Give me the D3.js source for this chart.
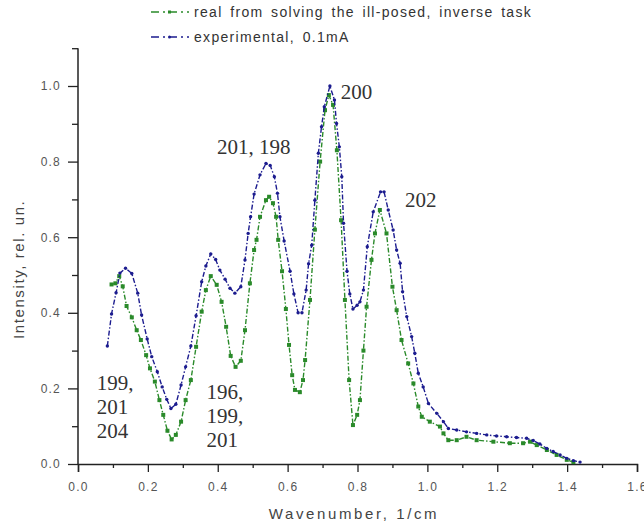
<!DOCTYPE html>
<html>
<head>
<meta charset="utf-8">
<script src="https://cdn.jsdelivr.net/npm/d3@7/dist/d3.min.js"></script>
<style>
  html, body { margin: 0; padding: 0; background: #fff; }
  svg { display: block; }
  .tick-label { font-family: "Liberation Sans", Arial, sans-serif; font-size: 12px; fill: #555; letter-spacing: 1.2px; }
  .axis-title { font-family: "Liberation Sans", Arial, sans-serif; font-size: 15px; fill: #444; }
  .legend-text { font-family: "Liberation Sans", Arial, sans-serif; font-size: 14px; fill: #333; letter-spacing: 1.3px; word-spacing: 2.5px; }
  .note { font-family: "Liberation Serif", "Times New Roman", serif; font-size: 21px; fill: #333; }
</style>
</head>
<body>
<svg id="chart" width="644" height="527"></svg>
<script>
// Wavenumber (1/cm) and relative intensity for the measured spectrum (0.1 mA)
const expX = [0.084,0.096,0.109,0.12,0.136,0.154,0.171,0.182,0.198,0.211,0.227,0.241,0.254,0.266,0.28,0.295,0.308,0.323,0.338,0.354,0.366,0.38,0.394,0.406,0.421,0.435,0.449,0.466,0.478,0.487,0.494,0.504,0.521,0.538,0.55,0.562,0.571,0.578,0.59,0.607,0.618,0.63,0.641,0.653,0.66,0.669,0.678,0.688,0.697,0.705,0.721,0.734,0.74,0.748,0.755,0.76,0.77,0.778,0.787,0.799,0.807,0.817,0.828,0.845,0.866,0.876,0.888,0.902,0.912,0.922,0.929,0.941,0.955,0.964,0.974,0.988,1.003,1.027,1.046,1.06,1.084,1.112,1.141,1.17,1.198,1.227,1.255,1.284,1.303,1.322,1.342,1.36,1.38,1.399,1.418,1.437];
const expY = [0.312,0.397,0.453,0.505,0.518,0.504,0.452,0.394,0.331,0.284,0.244,0.204,0.171,0.147,0.158,0.209,0.257,0.312,0.392,0.482,0.524,0.556,0.541,0.513,0.489,0.465,0.452,0.469,0.54,0.61,0.654,0.714,0.765,0.795,0.79,0.76,0.716,0.654,0.59,0.51,0.45,0.40,0.40,0.46,0.53,0.579,0.698,0.822,0.892,0.945,1.0,0.963,0.901,0.839,0.76,0.637,0.51,0.45,0.41,0.42,0.429,0.46,0.575,0.667,0.72,0.72,0.672,0.619,0.566,0.531,0.456,0.39,0.337,0.293,0.24,0.204,0.16,0.134,0.112,0.094,0.09,0.085,0.081,0.077,0.074,0.072,0.07,0.068,0.062,0.053,0.041,0.033,0.024,0.015,0.009,0.005];

// Spectrum recovered by solving the ill-posed inverse problem
const realX = [0.096,0.107,0.118,0.128,0.139,0.154,0.168,0.18,0.195,0.206,0.22,0.233,0.244,0.256,0.268,0.28,0.295,0.308,0.323,0.338,0.354,0.366,0.38,0.397,0.411,0.424,0.437,0.451,0.466,0.478,0.492,0.504,0.511,0.521,0.538,0.547,0.558,0.567,0.573,0.584,0.595,0.604,0.613,0.621,0.635,0.644,0.65,0.664,0.678,0.693,0.707,0.718,0.73,0.741,0.753,0.764,0.776,0.787,0.799,0.807,0.817,0.826,0.84,0.85,0.864,0.883,0.9,0.912,0.926,0.945,0.96,0.974,0.984,1.007,1.036,1.046,1.06,1.084,1.112,1.141,1.189,1.236,1.274,1.294,1.313,1.342,1.37,1.399,1.418];
const realY = [0.475,0.478,0.497,0.47,0.418,0.388,0.354,0.328,0.288,0.253,0.218,0.169,0.13,0.088,0.065,0.077,0.112,0.169,0.222,0.31,0.403,0.46,0.497,0.474,0.429,0.363,0.286,0.257,0.273,0.354,0.478,0.566,0.593,0.654,0.698,0.707,0.69,0.654,0.593,0.51,0.41,0.315,0.235,0.196,0.19,0.222,0.275,0.434,0.62,0.80,0.936,0.976,0.95,0.83,0.645,0.434,0.222,0.103,0.13,0.169,0.3,0.416,0.54,0.61,0.672,0.61,0.469,0.407,0.328,0.266,0.213,0.152,0.125,0.112,0.099,0.081,0.063,0.063,0.072,0.063,0.059,0.055,0.055,0.059,0.05,0.037,0.024,0.011,0.005];

const xTicks = [0.0, 0.2, 0.4, 0.6, 0.8, 1.0, 1.2, 1.4, 1.6];
const yTicks = [0.0, 0.2, 0.4, 0.6, 0.8, 1.0];
const xMinor = [0.1, 0.3, 0.5, 0.7, 0.9, 1.1, 1.3, 1.5];
const yMinor = [0.1, 0.3, 0.5, 0.7, 0.9, 1.1];

const legendLabels = ["real from solving the ill-posed, inverse task", "experimental, 0.1mA"];

// Isotope annotations: text lines and the peak position (x, y in data units) they sit by
const notes = [
  { lines: ["200"], x: 0.752, y: 0.965 },
  { lines: ["201, 198"], x: 0.398, y: 0.82 },
  { lines: ["202"], x: 0.936, y: 0.68 },
  { lines: ["199,", "201", "204"], x: 0.054, y: 0.196 },
  { lines: ["196,", "199,", "201"], x: 0.368, y: 0.171 }
];

const colReal = "#2a8a2a";
const colExp = "#1c1c8f";

const svg = d3.select("#chart");
const x = d3.scaleLinear().domain([0, 1.6]).range([78, 637]);
const y = d3.scaleLinear().domain([0, 1.1]).range([464, 48.2]);

// Axes: major ticks with labels, shorter unlabelled minor ticks, all pointing outward
const axisColor = "#222";
function styleAxis(g) {
  g.select(".domain").attr("stroke", axisColor).attr("stroke-width", 1.5);
  g.selectAll(".tick line").attr("stroke", axisColor).attr("stroke-width", 1.3);
}
const gx = svg.append("g").attr("transform", `translate(0,${y(0)})`)
  .call(d3.axisBottom(x).tickValues(xTicks).tickSizeOuter(0).tickSize(8).tickFormat(d3.format(".1f")))
  .call(styleAxis);
gx.selectAll(".tick text").attr("class", "tick-label").attr("y", 27).attr("dy", 0)
  .attr("font-size", null).attr("font-family", null).attr("fill", null);
svg.append("g").attr("transform", `translate(0,${y(0)})`)
  .call(d3.axisBottom(x).tickValues(xMinor).tickSizeOuter(0).tickSize(4).tickFormat(""))
  .call(styleAxis).select(".domain").remove();

const gy = svg.append("g").attr("transform", `translate(${x(0)},0)`)
  .call(d3.axisLeft(y).tickValues(yTicks).tickSizeOuter(0).tickSize(10).tickFormat(d3.format(".1f")))
  .call(styleAxis);
gy.selectAll(".tick text").attr("class", "tick-label").attr("x", -17)
  .attr("font-size", null).attr("font-family", null).attr("fill", null);
svg.append("g").attr("transform", `translate(${x(0)},0)`)
  .call(d3.axisLeft(y).tickValues(yMinor).tickSizeOuter(0).tickSize(6).tickFormat(""))
  .call(styleAxis).select(".domain").remove();
// extend the y axis line to its top minor tick
gy.select(".domain").attr("d", `M0,${y(0)}V${y(1.1)}`);

// Axis titles
svg.append("text").attr("class", "axis-title")
  .attr("transform", `translate(24,${y(0.515)}) rotate(-90)`)
  .attr("text-anchor", "middle").attr("letter-spacing", "1.6px").text("Intensity, rel. un.");
svg.append("text").attr("class", "axis-title")
  .attr("x", 354).attr("y", 519).attr("text-anchor", "middle")
  .attr("letter-spacing", "2.6px").text("Wavenumber, 1/cm");

// Series
const line = d3.line().x(d => x(d[0])).y(d => y(d[1]));
const expPts = expX.map((v, i) => [v, expY[i]]);
const realPts = realX.map((v, i) => [v, realY[i]]);

function drawSeries(pts, color, marker) {
  const g = svg.append("g");
  g.append("path").datum(pts).attr("d", line)
    .attr("fill", "none").attr("stroke", color).attr("stroke-width", 1.4)
    .attr("stroke-dasharray", "5,2,1.5,2");
  if (marker === "square") {
    g.selectAll("rect").data(pts).join("rect")
      .attr("x", d => x(d[0]) - 2).attr("y", d => y(d[1]) - 2)
      .attr("width", 4).attr("height", 4).attr("fill", color);
  } else {
    g.selectAll("circle").data(pts).join("circle")
      .attr("cx", d => x(d[0])).attr("cy", d => y(d[1])).attr("r", 1.7).attr("fill", color);
  }
}
drawSeries(realPts, colReal, "square");
drawSeries(expPts, colExp, "circle");

// Legend
const legendItems = [
  { label: legendLabels[0], color: colReal, marker: "square", yy: 12 },
  { label: legendLabels[1], color: colExp, marker: "circle", yy: 37 }
];
legendItems.forEach(it => {
  const g = svg.append("g");
  g.append("line").attr("x1", 151).attr("x2", 189).attr("y1", it.yy).attr("y2", it.yy)
    .attr("stroke", it.color).attr("stroke-width", 1.4).attr("stroke-dasharray", "8,4,2,4");
  if (it.marker === "square") {
    g.append("rect").attr("x", 168).attr("y", it.yy - 1.5).attr("width", 3).attr("height", 3).attr("fill", it.color);
  } else {
    g.append("circle").attr("cx", 169.5).attr("cy", it.yy).attr("r", 1.5).attr("fill", it.color);
  }
  g.append("text").attr("class", "legend-text").attr("x", 194).attr("y", it.yy + 5).text(it.label);
});

// Peak annotations
notes.forEach(n => {
  const t = svg.append("text").attr("class", "note");
  n.lines.forEach((s, i) => {
    t.append("tspan").attr("x", x(n.x)).attr("y", y(n.y) + i * 24).text(s);
  });
});
</script>
</body>
</html>
